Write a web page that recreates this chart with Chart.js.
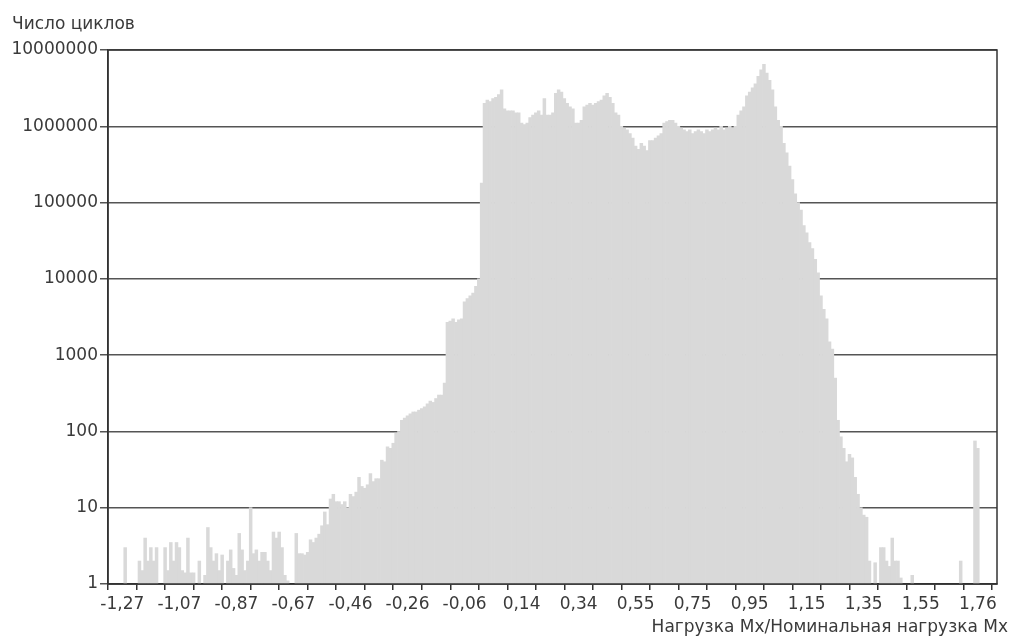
<!DOCTYPE html>
<html lang="ru">
<head>
  <meta charset="UTF-8">
  <title>Число циклов</title>
  <script src="https://cdn.jsdelivr.net/npm/chart.js"></script>
  <style>
    html, body { margin: 0; padding: 0; background: #fff; }
    #wrap { width: 1011px; height: 639px; }
  </style>
</head>
<body>
  <div id="wrap"><canvas id="grafico"></canvas></div>
  <script>
    // подписи и значения гистограммы (шаг класса 0,0101)
    const tickLabels = ['-1,27', '-1,07', '-0,87', '-0,67', '-0,46', '-0,26', '-0,06', '0,14',
                        '0,34', '0,55', '0,75', '0,95', '1,15', '1,35', '1,55', '1,76'];
    const yTicks = [1, 10, 100, 1000, 10000, 100000, 1000000, 10000000];
    const yTitle = 'Число циклов';
    const xTitle = 'Нагрузка Mx/Номинальная нагрузка Mx';

    // число циклов по классам, 0 = пустой класс
    const counts = [
      0, 3, 0, 0, 0, 0, 2, 1.5, 4, 2,
      3, 2, 3, 0, 0, 3, 1.5, 3.5, 2, 3.5,
      3, 1.5, 1.4, 4, 1.4, 1.4, 0, 2, 0, 1.3,
      5.5, 3, 2, 2.5, 1.5, 2.4, 0, 2, 2.8, 1.6,
      1.3, 4.6, 2.8, 1.5, 2, 10, 2.5, 2.8, 2, 2.6,
      2.6, 2, 1.5, 4.8, 4, 4.8, 3, 1.3, 1.1, 0,
      0, 4.6, 2.5, 2.5, 2.4, 2.6, 3.8, 3.5, 4, 4.5,
      5.8, 8.8, 6, 13, 15, 12, 12, 11, 12, 10,
      15, 14, 16, 25, 19, 18, 20, 28, 22, 24,
      24, 42, 40, 63, 60, 70, 95, 100, 140, 150,
      160, 170, 180, 180, 190, 200, 210, 230, 250, 240,
      270, 300, 300, 430, 2700, 2800, 3000, 2700, 2900, 3000,
      5000, 5500, 6000, 6500, 8000, 10000, 180000, 2000000, 2200000, 2100000,
      2300000, 2400000, 2600000, 3000000, 1700000, 1600000, 1600000, 1600000, 1500000, 1500000,
      1100000, 1050000, 1100000, 1300000, 1400000, 1500000, 1600000, 1400000, 2300000, 1400000,
      1400000, 1500000, 2700000, 3000000, 2800000, 2300000, 2000000, 1800000, 1700000, 1100000,
      1100000, 1200000, 1800000, 1900000, 2000000, 1900000, 2000000, 2100000, 2200000, 2500000,
      2700000, 2400000, 2000000, 1500000, 1400000, 1000000, 950000, 900000, 800000, 700000,
      550000, 500000, 600000, 550000, 480000, 650000, 650000, 700000, 750000, 800000,
      1100000, 1150000, 1200000, 1200000, 1100000, 1000000, 950000, 900000, 850000, 900000,
      800000, 850000, 900000, 850000, 800000, 900000, 850000, 900000, 950000, 900000,
      1000000, 900000, 950000, 1000000, 950000, 1000000, 1400000, 1600000, 1800000, 2500000,
      2800000, 3200000, 3600000, 4500000, 5500000, 6500000, 5000000, 4000000, 3000000, 1800000,
      1200000, 1000000, 600000, 450000, 300000, 200000, 130000, 100000, 80000, 50000,
      40000, 30000, 25000, 18000, 12000, 6000, 4000, 3000, 1500, 1200,
      500, 140, 85, 60, 40, 50, 45, 25, 15, 10,
      8, 7.5, 2, 0, 1.9, 0, 3, 3, 2, 1.7,
      4, 2, 2, 1.2, 0, 0, 0, 1.3, 0, 0,
      0, 0, 0, 0, 0, 0, 0, 0, 0, 0,
      0, 0, 0, 0, 2, 0, 0, 0, 0, 75,
      60
    ];

    const fontName = '"DejaVu Sans", sans-serif';
    const textColor = '#3a3a3a';

    // подписи осей — горизонтально, как в оригинале
    const axisTitles = {
      id: 'axisTitles',
      afterDraw(chart) {
        const ctx = chart.ctx;
        ctx.save();
        ctx.fillStyle = textColor;
        ctx.font = '17px ' + fontName;
        ctx.textBaseline = 'middle';
        ctx.textAlign = 'left';
        ctx.fillText(yTitle, 12, 25);
        ctx.textAlign = 'right';
        ctx.fillText(xTitle, 1008, 628);
        ctx.restore();
      }
    };

    // рамка области графика
    const frame = {
      id: 'frame',
      afterDatasetsDraw(chart) {
        const a = chart.chartArea;
        const ctx = chart.ctx;
        ctx.save();
        ctx.strokeStyle = '#333';
        ctx.lineWidth = 1.5;
        ctx.strokeRect(a.left, a.top, a.right - a.left, a.bottom - a.top);
        ctx.restore();
      }
    };

    new Chart(document.getElementById('grafico'), {
      type: 'bar',
      data: {
        datasets: [{
          data: counts.map((c, i) => ({ x: i, y: c > 0 ? c : null })),
          backgroundColor: '#d9d9d9',
          borderWidth: 0,
          barPercentage: 1,
          categoryPercentage: 1
        }]
      },
      options: {
        responsive: true,
        maintainAspectRatio: false,
        animation: false,
        layout: { padding: { top: 50, right: 14, left: 0, bottom: 0 } },
        plugins: { legend: { display: false }, tooltip: { enabled: false } },
        scales: {
          x: {
            type: 'linear',
            min: 0,
            max: 301.7,
            afterBuildTicks: (axis) => {
              const t = [];
              for (let k = 0; k <= 30; k++) t.push({ value: k * 10 });
              axis.ticks = t;
            },
            afterFit: (scale) => { scale.height = 55; },
            grid: { drawOnChartArea: false, color: '#333', lineWidth: 1.5, tickLength: 6 },
            border: { color: '#333', width: 1.5 },
            ticks: {
              autoSkip: false,
              maxRotation: 0,
              padding: 4,
              color: textColor,
              font: { family: fontName, size: 17 },
              callback: (v) => (v % 20 === 0 ? tickLabels[v / 20] : '')
            }
          },
          y: {
            type: 'logarithmic',
            min: 1,
            max: 10000000,
            afterBuildTicks: (axis) => {
              axis.ticks = yTicks.map(v => ({ value: v }));
            },
            afterFit: (scale) => { scale.width = 108; },
            grid: { color: '#555', lineWidth: 1.5, tickLength: 8 },
            border: { color: '#333', width: 1.5 },
            ticks: {
              padding: 2,
              color: textColor,
              font: { family: fontName, size: 17 },
              callback: (v) => String(v)
            }
          }
        }
      },
      plugins: [axisTitles, frame]
    });
  </script>
</body>
</html>
